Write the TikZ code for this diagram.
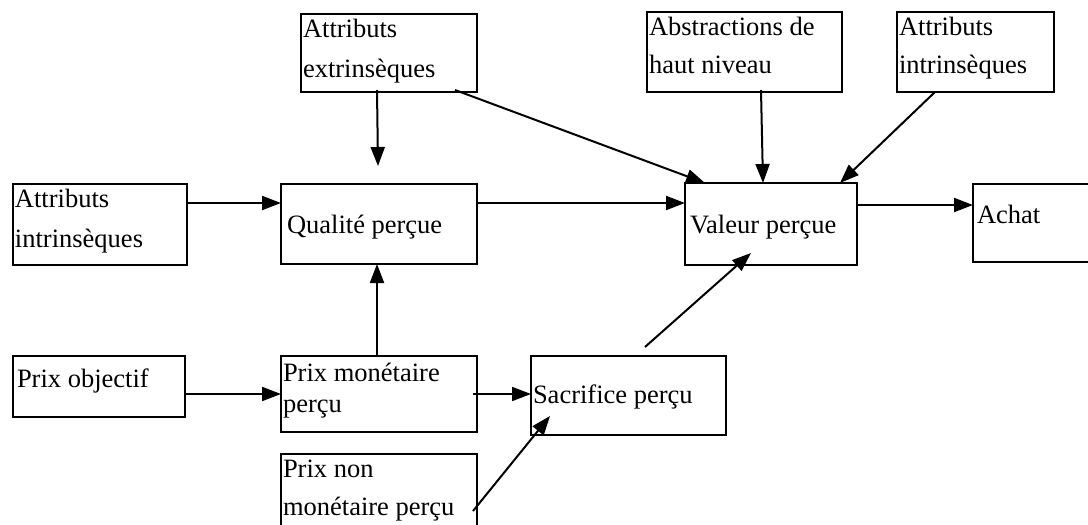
\documentclass[tikz,border=0pt]{standalone}
\usepackage{fontspec}
\setmainfont{Liberation Serif}
\usetikzlibrary{calc,arrows.meta}

\begin{document}
\begin{tikzpicture}[x=1pt,y=-1pt,
every node/.style={inner sep=0pt,outer sep=0pt},
box/.style={draw,line width=2pt,rectangle,anchor=north west},
txt/.style={anchor=base west,align=left,font=\fontsize{26.5}{39}\selectfont},
arr/.style={line width=2pt,-{Triangle[length=19pt,width=14pt]}}
]
\useasboundingbox (0,0) rectangle (1088,525);
  %boxes
  \node[box,minimum width=176pt,minimum height=78pt] (ExtrBox) at (301,14) {};
  \node[box,minimum width=195pt,minimum height=80pt] (AbstBox) at (647,12) {};
  \node[box,minimum width=157pt,minimum height=80pt] (IntrRBox) at (897,12) {};
  \node[box,minimum width=174pt,minimum height=81pt] (IntrLBox) at (13,184) {};
  \node[box,minimum width=196pt,minimum height=80pt] (QualBox) at (281,184) {};
  \node[box,minimum width=172pt,minimum height=82pt] (ValBox) at (685,183) {};
  \node[box,minimum width=130pt,minimum height=78pt] (AchatBox) at (973,184) {};
  \node[box,minimum width=172pt,minimum height=61pt] (ObjBox) at (13,356) {};
  \node[box,minimum width=196pt,minimum height=76pt] (MonBox) at (281,356) {};
  \node[box,minimum width=196pt,minimum height=90pt] (NonMonBox) at (281,454) {};
  \node[box,minimum width=195pt,minimum height=79pt] (SacrBox) at (531,356) {};
  %texts (base = last line)
  \node[txt,font=\fontsize{26.5}{40}\selectfont] (ExtrText) at (303,77) {Attributs\\extrinsèques};
  \node[txt,font=\fontsize{26.5}{38}\selectfont] (AbstText) at (649,73) {Abstractions de\\haut niveau};
  \node[txt,font=\fontsize{26.5}{38}\selectfont] (IntrRText) at (899,73) {Attributs\\intrinsèques};
  \node[txt,font=\fontsize{26.5}{40}\selectfont] (IntrLText) at (15,247) {Attributs\\intrinsèques};
  \node[txt] (QualText) at (287,233) {Qualité perçue};
  \node[txt] (ValText) at (690,233) {Valeur perçue};
  \node[txt] (AchatText) at (977,223) {Achat};
  \node[txt] (ObjText) at (17,387) {Prix objectif};
  \node[txt,font=\fontsize{26.5}{31}\selectfont] (MonText) at (283,412) {Prix monétaire\\perçu};
  \node[txt,font=\fontsize{26.5}{38}\selectfont] (NonMonText) at (283,515) {Prix non\\monétaire perçu};
  \node[txt] (SacrText) at (533,403) {Sacrifice perçu};
  %arrows
  \coordinate (QualAbove) at ($(QualBox.north)+(-1,-18)$);
  \draw[arr] ($(IntrLBox.north east)+(0,19)$) -- ($(QualBox.north west)+(0,19)$);
  \draw[arr] ($(ExtrBox.south)+(-12,-2)$) -- (QualAbove);
  \draw[arr] ($(ExtrBox.south east)+(-22,-2)$) -- ($(ValBox.north west)+(20,0)$);
  \draw[arr] ($(QualBox.north east)+(0,19)$) -- ($(ValBox.north west)+(0,20)$);
  \draw[arr] ($(AbstBox.south)+(16.5,-2)$) -- ($(ValBox.north)+(-8,0)$);
  \draw[arr] ($(IntrRBox.south)+(-40.5,0)$) -- ($(ValBox.north east)+(-17,0)$);
  \draw[arr] ($(ValBox.north east)+(0,22)$) -- ($(AchatBox.north west)+(0,21)$);
  \draw[arr] ($(MonBox.north)+(-2,0)$) -- ($(QualBox.south)+(-2,0)$);
  \draw[arr] ($(ObjBox.north east)+(0,38)$) -- ($(MonBox.north west)+(0,38)$);
  \draw[arr] ($(MonBox.north east)+(-4,38)$) -- ($(SacrBox.north west)+(0,38)$);
  \draw[arr] ($(NonMonBox.north east)+(-4,57)$) -- ($(SacrBox.south west)+(19,-19)$);
  \draw[arr] ($(SacrBox.north)+(16.5,-9)$) -- ($(ValBox.south)+(-20,-12)$);
\end{tikzpicture}
\end{document}
